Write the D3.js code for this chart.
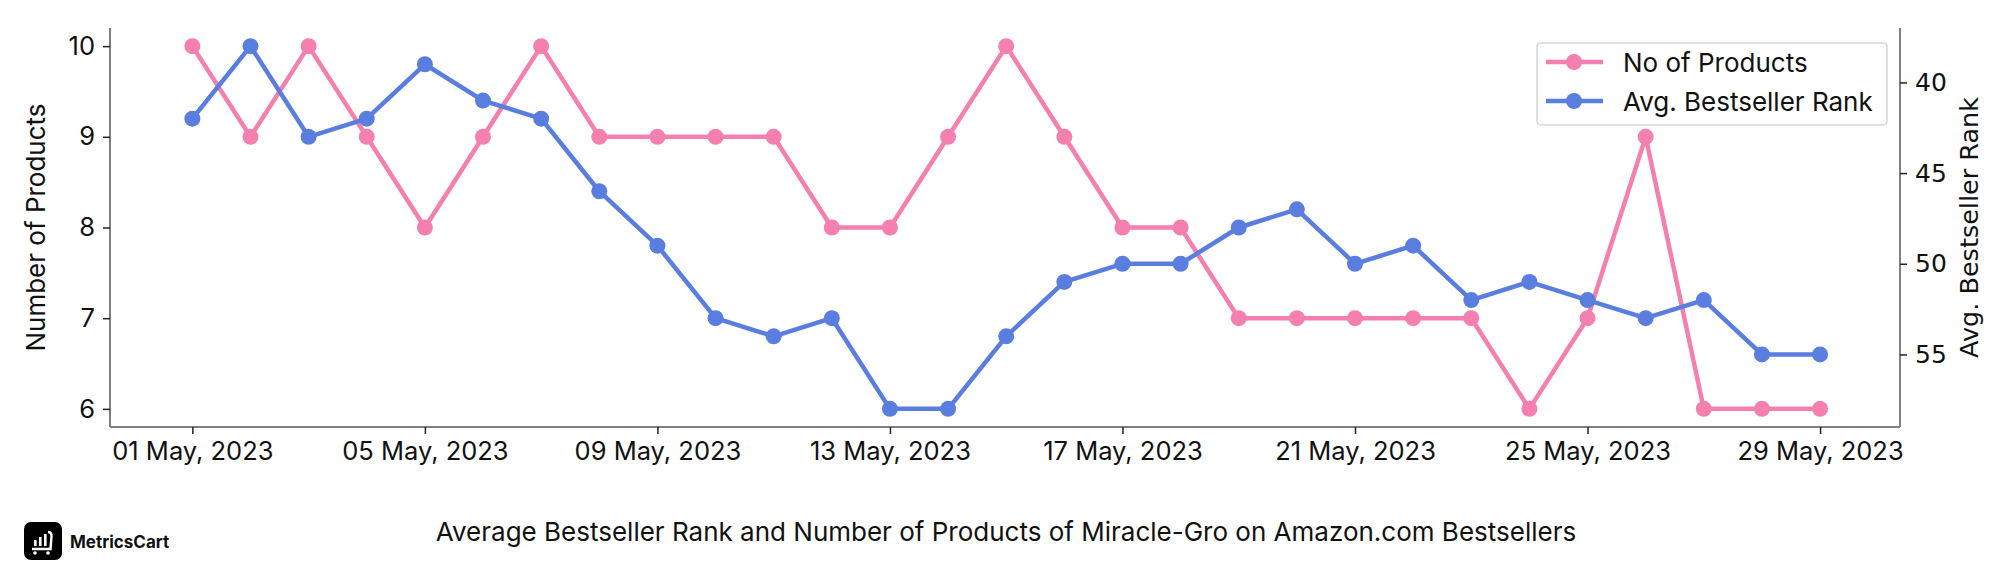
<!DOCTYPE html>
<html>
<head>
<meta charset="utf-8">
<script src="https://cdn.jsdelivr.net/npm/d3@7"></script>
<style>
  html, body { margin: 0; padding: 0; background: #fff; }
  svg { display: block; }
</style>
</head>
<body>
<svg id="chart" width="2016" height="576"></svg>
<script>
// ---- data ----
const dates = ["2023-05-01","2023-05-02","2023-05-03","2023-05-04","2023-05-05","2023-05-06","2023-05-07","2023-05-08","2023-05-09","2023-05-10","2023-05-11","2023-05-12","2023-05-13","2023-05-14","2023-05-15","2023-05-16","2023-05-17","2023-05-18","2023-05-19","2023-05-20","2023-05-21","2023-05-22","2023-05-23","2023-05-24","2023-05-25","2023-05-26","2023-05-27","2023-05-28","2023-05-29"];
const noOfProducts = [10,9,10,9,8,9,10,9,9,9,9,8,8,9,10,9,8,8,7,7,7,7,7,6,7,9,6,6,6];
const avgRank = [42,38,43,42,39,41,42,46,49,53,54,53,58,58,54,51,50,50,48,47,50,49,52,51,52,53,52,55,55];
const xTickDates = ["2023-05-01","2023-05-05","2023-05-09","2023-05-13","2023-05-17","2023-05-21","2023-05-25","2023-05-29"];
const leftTicks = [6,7,8,9,10];
const rightTicks = [40,45,50,55];
const seriesNames = ["No of Products","Avg. Bestseller Rank"];
const title = "Average Bestseller Rank and Number of Products of Miracle-Gro on Amazon.com Bestsellers";

const PINK = "#F57FAF", BLUE = "#5A7EE0", AXIS = "#808080";
const FONT = "Inter, 'Noto Sans', sans-serif";
const FONT2 = "'DejaVu Sans', sans-serif";

const parse = d3.timeParse("%Y-%m-%d");
const dd = dates.map(parse);
const svg = d3.select("#chart");
const L = 110, R = 1900, T = 28, B = 427;

const x = d3.scaleTime()
  .domain([d3.timeHour.offset(dd[0], -1.4*24), d3.timeHour.offset(dd[dd.length-1], 1.4*24)])
  .range([L, R]);
const yL = d3.scaleLinear().domain([5.8, 10.2]).range([B, T]);
const yR = d3.scaleLinear().domain([37, 59]).range([T, B]);

// axes
const fmt = d3.timeFormat("%d %b, %Y");
const gx = svg.append("g").attr("transform", `translate(0,${B})`)
  .call(d3.axisBottom(x).tickValues(xTickDates.map(parse)).tickFormat(fmt).tickSize(7).tickPadding(8));
const gl = svg.append("g").attr("transform", `translate(${L},0)`)
  .call(d3.axisLeft(yL).tickValues(leftTicks).tickFormat(d3.format("d")).tickSize(7).tickPadding(8));
const gr = svg.append("g").attr("transform", `translate(${R},0)`)
  .call(d3.axisRight(yR).tickValues(rightTicks).tickFormat(d3.format("d")).tickSize(7).tickPadding(8));
[gx, gl, gr].forEach(g => {
  g.select(".domain").attr("stroke", AXIS).attr("stroke-width", 2);
  g.selectAll(".tick line").attr("stroke", "#222").attr("stroke-width", 1.5);
  g.selectAll("text").attr("fill", "#111");
});
gx.selectAll("text").style("font-family", FONT).style("font-size", "25.5px");
gl.selectAll("text").style("font-family", FONT).style("font-size", "25.5px");
gr.selectAll("text").style("font-family", FONT2).style("font-size", "25px");
gx.select(".domain").attr("d", `M${L},0H${R}`);
gl.select(".domain").attr("d", `M0,${B}V${T}`);
gr.select(".domain").attr("d", `M0,${B}V${T}`);

// axis titles
svg.append("text").attr("transform", `translate(38,${(T+B)/2}) rotate(-90)`)
  .attr("text-anchor", "middle").attr("dominant-baseline", "middle")
  .style("font-family", FONT).style("font-size", "26px").attr("fill", "#111")
  .text("Number of Products");
svg.append("text").attr("transform", `translate(1971,${(T+B)/2}) rotate(-90)`)
  .attr("text-anchor", "middle").attr("dominant-baseline", "middle")
  .style("font-family", FONT2).style("font-size", "25.5px").attr("fill", "#111")
  .text("Avg. Bestseller Rank");

// series
function drawSeries(vals, yS, color) {
  const line = d3.line().x((d, i) => x(dd[i])).y(d => yS(d));
  svg.append("path").datum(vals).attr("d", line)
    .attr("fill", "none").attr("stroke", color).attr("stroke-width", 4.5).attr("stroke-linejoin", "round");
  svg.append("g").selectAll("circle").data(vals).join("circle")
    .attr("cx", (d, i) => x(dd[i])).attr("cy", d => yS(d)).attr("r", 8).attr("fill", color);
}
drawSeries(noOfProducts, yL, PINK);
drawSeries(avgRank, yR, BLUE);

// legend
const lg = svg.append("g").attr("transform", "translate(1537,43)");
lg.append("rect").attr("width", 350).attr("height", 82).attr("rx", 4)
  .attr("fill", "#fff").attr("fill-opacity", 0.8).attr("stroke", "#d6d6d6").attr("stroke-width", 1.5);
[PINK, BLUE].forEach((c, i) => {
  const yy = 19 + i * 39;
  lg.append("line").attr("x1", 9).attr("x2", 66).attr("y1", yy).attr("y2", yy).attr("stroke", c).attr("stroke-width", 4.5);
  lg.append("circle").attr("cx", 37).attr("cy", yy).attr("r", 8).attr("fill", c);
  lg.append("text").attr("x", 86).attr("y", yy).attr("dominant-baseline", "central")
    .style("font-family", FONT).style("font-size", "26px").attr("fill", "#111").text(seriesNames[i]);
});

// title
svg.append("text").attr("x", 1006).attr("y", 531).attr("text-anchor", "middle").attr("dominant-baseline", "central")
  .style("font-family", FONT).style("font-size", "26px").attr("fill", "#111").text(title);

// logo
const logo = svg.append("g").attr("transform", "translate(24,522)");
logo.append("rect").attr("width", 38).attr("height", 38).attr("rx", 7).attr("fill", "#000");
[[10,6],[15,9],[20,12]].forEach(([bx, h]) => {
  logo.append("rect").attr("x", bx).attr("y", 24 - h).attr("width", 2.6).attr("height", h).attr("fill", "#fff");
});
logo.append("path").attr("d", "M24,10 C27,10 27.5,12 27.5,14 L26.5,27 L8,27").attr("fill", "none").attr("stroke", "#fff").attr("stroke-width", 2.4);
logo.append("circle").attr("cx", 11).attr("cy", 31).attr("r", 1.8).attr("fill", "#fff");
logo.append("circle").attr("cx", 24).attr("cy", 31).attr("r", 1.8).attr("fill", "#fff");
svg.append("text").attr("x", 70).attr("y", 542).attr("dominant-baseline", "central")
  .style("font-family", FONT).style("font-weight", "700").style("font-size", "17px").attr("fill", "#111").text("MetricsCart");
</script>
</body>
</html>
